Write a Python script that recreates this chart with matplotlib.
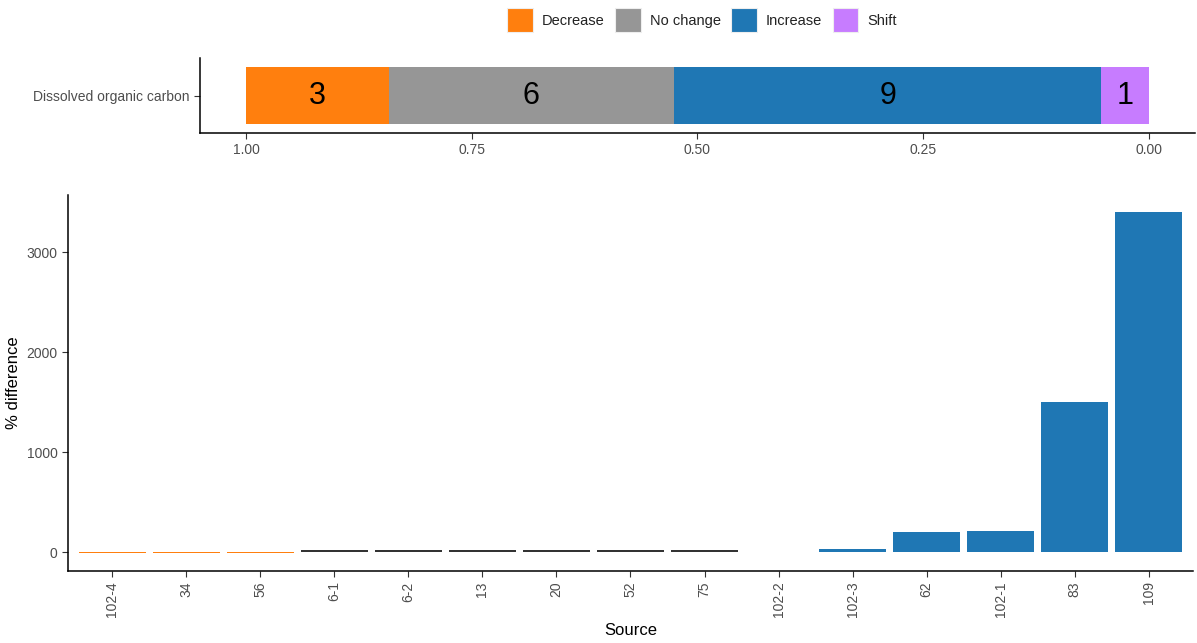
import numpy as np
import matplotlib.pyplot as plt
from matplotlib.patches import Patch

plt.rcParams['font.family'] = ['Liberation Sans', 'DejaVu Sans']

# categories and colours
categorias = ['Decrease', 'No change', 'Increase', 'Shift']
cores = {'Decrease': '#FF7F0E', 'No change': '#969696',
         'Increase': '#1F77B4', 'Shift': '#C77CFF'}
contagens = [3, 6, 9, 1]
variavel = 'Dissolved organic carbon'

# per-source % difference
fontes = ['102-4', '34', '56', '6-1', '6-2', '13', '20', '52', '75',
          '102-2', '102-3', '62', '102-1', '83', '109']
diferenca = [-10, -10, -10, 20, 20, 20, 20, 20, 20, 0, 30, 200, 210, 1500, 3400]
classe = ['Decrease'] * 3 + ['No change'] * 6 + ['Shift'] + ['Increase'] * 5

W, H = 1197, 643
fig = plt.figure(figsize=(W / 100, H / 100), dpi=100)

def eixo(x0, x1, y0, y1):
    return fig.add_axes([x0 / W, 1 - y1 / H, (x1 - x0) / W, (y1 - y0) / H])

cinza_txt = '#4D4D4D'

# --- top panel: proportions ---
ax1 = eixo(200, 1195, 58, 133)
total = sum(contagens)
fracs = np.array(contagens) / total
fim = 1.0
for cat, f, n in zip(categorias, fracs, contagens):
    inicio = fim - f
    ax1.barh(1, f, left=inicio, height=0.9, color=cores[cat], linewidth=0)
    ax1.text(inicio + f / 2, 1, str(n), ha='center', va='center',
             fontsize=22, color='black')
    fim = inicio
ax1.set_xlim(1.051, -0.051)
ax1.set_ylim(0.4, 1.6)
ax1.set_xticks([1.0, 0.75, 0.5, 0.25, 0.0])
ax1.set_xticklabels(['1.00', '0.75', '0.50', '0.25', '0.00'])
ax1.set_yticks([1])
ax1.set_yticklabels([variavel])

# --- bottom panel: % difference per source ---
ax2 = eixo(68, 1193, 195, 571)
x = np.arange(len(fontes))
cores_barras = ['#333333' if c == 'No change' else cores[c] for c in classe]
ax2.bar(x, diferenca, width=0.9, color=cores_barras, linewidth=0)
ax2.set_xlim(-0.6, len(fontes) - 0.4)
ax2.set_ylim(-190, 3570)
ax2.set_yticks([0, 1000, 2000, 3000])
ax2.set_xticks(x)
ax2.set_xticklabels(fontes, rotation=90)
ax2.set_xlabel('Source', fontsize=12, labelpad=4)
ax2.set_ylabel('% difference', fontsize=12, labelpad=4)

for ax in (ax1, ax2):
    for s in ('top', 'right'):
        ax.spines[s].set_visible(False)
    for s in ('left', 'bottom'):
        ax.spines[s].set_linewidth(1.1)
        ax.spines[s].set_color('black')
    ax.tick_params(labelsize=10, labelcolor=cinza_txt, color='#333333',
                   length=4, width=0.8)

# legend on top
handles = [Patch(facecolor=cores[c], edgecolor='#EEEEEE', linewidth=0.8,
                 label=c) for c in categorias]
leg = fig.legend(handles=handles, loc='center',
                 bbox_to_anchor=(702 / W, 1 - 20 / H), ncol=4, frameon=False,
                 fontsize=10.5, handlelength=1.75, handleheight=2.2,
                 handletextpad=0.6, columnspacing=0.75)
for t in leg.get_texts():
    t.set_color('#222222')

fig.savefig('out.png', dpi=100)
